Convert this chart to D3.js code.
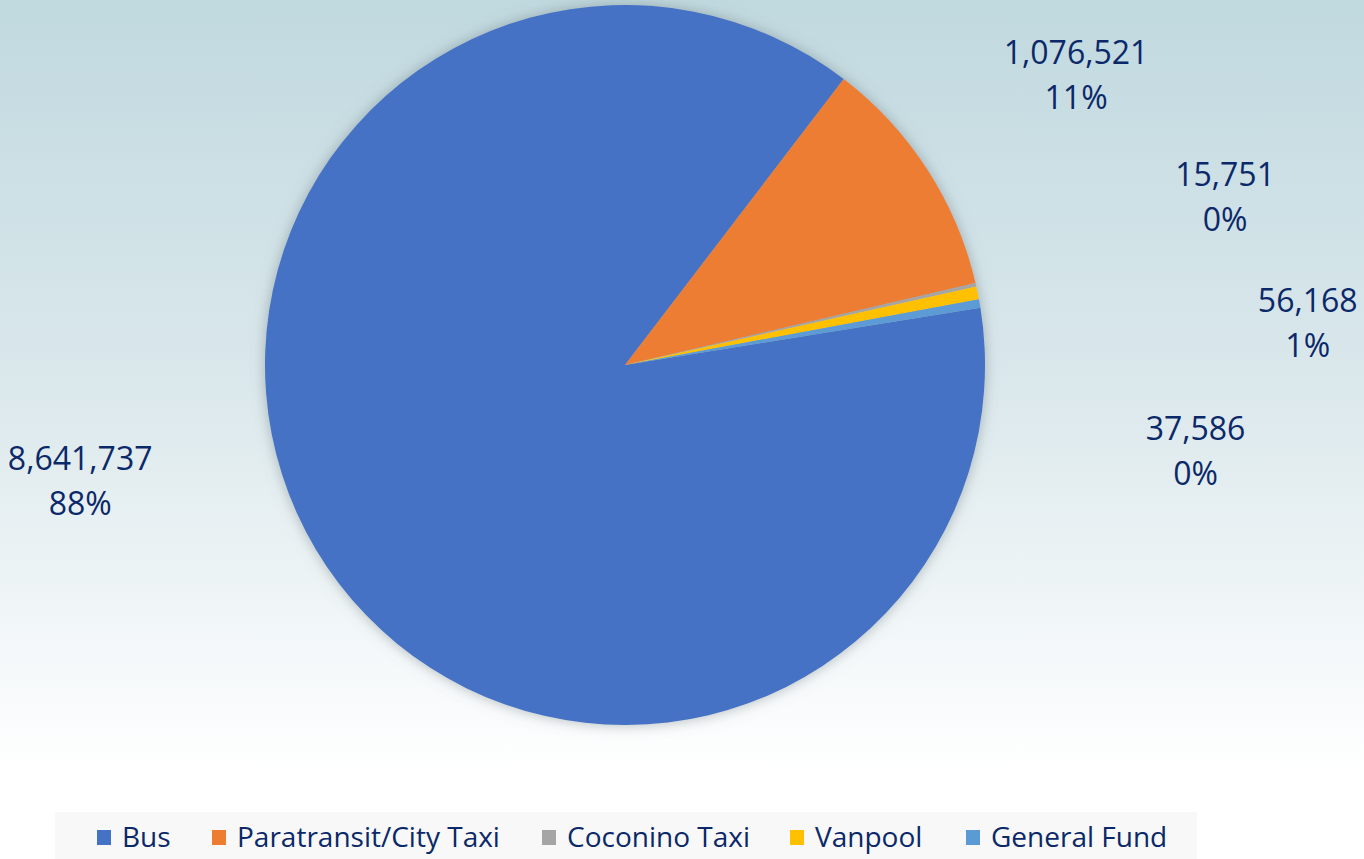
<!DOCTYPE html>
<html>
<head>
<meta charset="utf-8">
<script src="https://cdn.jsdelivr.net/npm/d3@7"></script>
<style>
  html, body { margin: 0; padding: 0; background: #fff; }
  svg { display: block; }
</style>
</head>
<body>
<svg id="chart"></svg>
<script>
const categories = ["Bus", "Paratransit/City Taxi", "Coconino Taxi", "Vanpool", "General Fund"];
const values = [8641737, 1076521, 15751, 56168, 37586];
const percentLabels = ["88%", "11%", "0%", "1%", "0%"];
const colors = ["#4472C4", "#ED7D31", "#A5A5A5", "#FFC000", "#5B9BD5"];

const WIDTH = 1364, HEIGHT = 859;
const CX = 625, CY = 365, R = 360;
const START = 80.85 * Math.PI / 180;
const TEXT = "#0b2869";

// where each data label sits: angle (deg from 12 o'clock) and distance from centre
const labelPlace = [
  {a: 258.0, d: 557},
  {a: 57.3, d: 536},
  {a: 74.4, d: 623},
  {a: 86.5, d: 684},
  {a: 98.6, d: 577}
];

const svg = d3.select('#chart')
  .attr('width', WIDTH)
  .attr('height', HEIGHT);

const defs = svg.append('defs');
const grad = defs.append('linearGradient')
  .attr('id', 'bg').attr('x1', 0).attr('y1', 0).attr('x2', 0).attr('y2', 1);
grad.append('stop').attr('offset', '0%').attr('stop-color', '#c0d9df');
grad.append('stop').attr('offset', '45%').attr('stop-color', '#dbe8ec');
grad.append('stop').attr('offset', '90%').attr('stop-color', '#ffffff');
grad.append('stop').attr('offset', '100%').attr('stop-color', '#ffffff');

const shadow = defs.append('filter').attr('id', 'shadow')
  .attr('x', '-10%').attr('y', '-10%').attr('width', '120%').attr('height', '120%');
shadow.append('feDropShadow')
  .attr('dx', 0).attr('dy', 0)
  .attr('stdDeviation', 7)
  .attr('flood-color', '#6f7f85')
  .attr('flood-opacity', 0.55);

svg.append('rect')
  .attr('width', WIDTH).attr('height', HEIGHT)
  .attr('fill', 'url(#bg)');

const pie = d3.pie().sort(null).value(d => d)
  .startAngle(START).endAngle(START + 2 * Math.PI);
const arcs = pie(values);
const arc = d3.arc().innerRadius(0).outerRadius(R);

const g = svg.append('g').attr('transform', `translate(${CX},${CY})`);

g.append('g').attr('filter', 'url(#shadow)')
  .selectAll('path')
  .data(arcs)
  .enter()
  .append('path')
  .attr('d', arc)
  .attr('fill', (d, i) => colors[i]);

const fmt = d3.format(',');
const labels = g.selectAll('.label')
  .data(arcs)
  .enter()
  .append('text')
  .classed('label', true)
  .attr('text-anchor', 'middle')
  .attr('font-family', 'Open Sans, sans-serif')
  .attr('font-size', 32)
  .attr('fill', TEXT)
  .attr('transform', (d, i) => {
    const a = labelPlace[i].a * Math.PI / 180;
    const x = Math.sin(a) * labelPlace[i].d;
    const y = -Math.cos(a) * labelPlace[i].d;
    return `translate(${x},${y})`;
  });
labels.append('tspan').attr('x', 0).attr('y', -11).text(d => fmt(d.data));
labels.append('tspan').attr('x', 0).attr('y', 34).text((d, i) => percentLabels[i]);

// legend
const legend = svg.append('g');
legend.append('rect')
  .attr('x', 55).attr('y', 812)
  .attr('width', 1142).attr('height', 47)
  .attr('fill', '#f8f8f8');

const legendX = [97, 212, 542, 790, 966];
const items = legend.selectAll('.item')
  .data(categories)
  .enter()
  .append('g')
  .classed('item', true)
  .attr('transform', (d, i) => `translate(${legendX[i]},0)`);
items.append('rect')
  .attr('x', 0).attr('y', 830)
  .attr('width', 14).attr('height', 15)
  .attr('fill', (d, i) => colors[i]);
items.append('text')
  .attr('x', 25).attr('y', 847)
  .attr('font-family', 'Open Sans, sans-serif')
  .attr('font-size', 28)
  .attr('fill', TEXT)
  .text(d => d);
</script>
</body>
</html>
